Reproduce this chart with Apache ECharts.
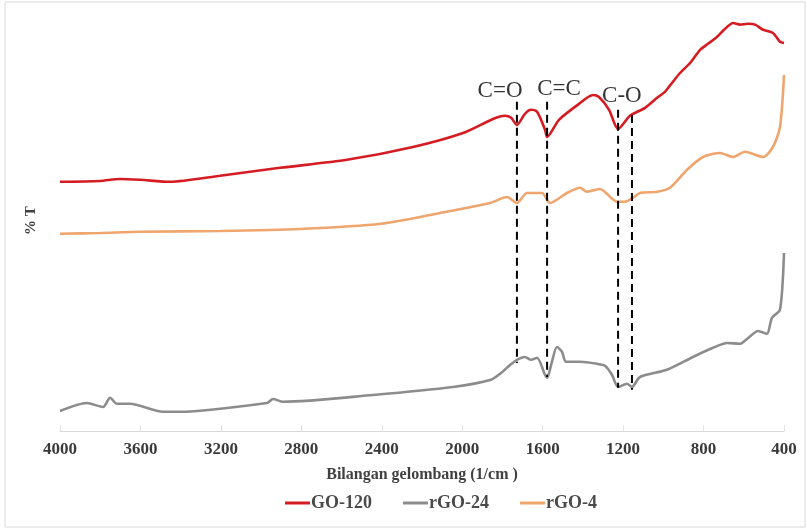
<!DOCTYPE html>
<html>
<head>
<meta charset="utf-8">
<script src="https://cdn.jsdelivr.net/npm/echarts@6/dist/echarts.min.js"></script>
<style>html,body{margin:0;padding:0;background:#fff;}#c{width:807px;height:529px;}</style>
</head>
<body>
<div id="c"></div>
<script>
// x: wavenumber (1/cm), y: %T (arbitrary offset units)
const xTicks = [4000, 3600, 3200, 2800, 2400, 2000, 1600, 1200, 800, 400];
const seriesNames = ['GO-120', 'rGO-24', 'rGO-4'];

const go120 = [
  [4000,62.3],[3801,62.5],[3702,63.0],[3602,62.8],[3453,62.3],[3204,63.8],[2906,65.8],
  [2573,67.8],[2245,71.0],[1996,74.5],[1847,78.0],[1787,78.8],[1757,78.3],[1728,76.5],
  [1688,79.3],[1658,80.3],[1628,79.8],[1588,75.3],[1578,73.5],[1519,77.8],[1419,81.8],
  [1350,84.0],[1320,83.5],[1270,80.3],[1225,75.5],[1166,78.8],[1091,80.8],[1031,83.3],
  [992,84.8],[957,87.0],[917,89.5],[867,92.0],[817,95.3],[778,96.8],[738,98.3],[698,100.3],
  [653,102.0],[619,101.6],[579,101.8],[544,101.6],[504,100.3],[455,99.5],[420,97.3],[400,97.0]
];
const rgo24 = [
  [4000,5.0],[3866,7.0],[3786,6.0],[3751,8.3],[3717,6.8],[3652,6.8],[3488,4.8],[3403,4.8],
  [2971,7.0],[2941,8.0],[2891,7.3],[2444,9.0],[2046,11.0],[1857,12.8],[1807,14.5],[1762,16.5],
  [1728,17.8],[1688,18.5],[1658,17.8],[1628,18.3],[1588,14.0],[1578,13.3],[1554,17.3],
  [1529,21.0],[1504,19.8],[1484,17.3],[1414,17.3],[1330,16.8],[1290,16.3],[1255,14.0],
  [1225,11.0],[1181,11.8],[1156,11.0],[1116,13.5],[982,15.3],[853,18.5],[753,20.8],
  [683,22.0],[619,21.8],[584,23.0],[529,25.0],[485,24.3],[460,28.3],[420,30.3],[400,44.5]
];
const rgo4 = [
  [4000,49.3],[3801,49.5],[3602,49.8],[3204,50.0],[2807,50.5],[2404,51.8],[2110,54.5],
  [1862,57.0],[1777,58.5],[1728,57.0],[1678,59.5],[1603,59.5],[1564,57.0],[1479,59.5],
  [1414,60.8],[1380,59.8],[1315,60.5],[1230,57.3],[1191,57.3],[1151,58.3],[1116,59.5],
  [1031,59.8],[967,60.8],[882,65.3],[803,68.5],[718,69.5],[653,68.5],[594,69.8],
  [504,68.5],[455,71.0],[420,76.0],[400,89.0]
];
// annotation dashed lines: [wavenumber, yTop, yBottom]
const peakLines = [[1728,82.3,17.0],[1578,82.3,13.5],[1225,80.3,10.8],[1156,79.0,10.3]];
// annotation labels: [wavenumber, y, text]
const peakLabels = [[1812,85.0,'C=O'],[1519,85.5,'C=C'],[1206,83.8,'C-O']];

const colors = {'GO-120':'#d51c22','rGO-24':'#8c8c8c','rGO-4':'#eea56e'};
const serif = '"Liberation Serif","DejaVu Serif",serif';

const series = [];
[[go120,'GO-120'],[rgo24,'rGO-24'],[rgo4,'rGO-4']].forEach(([d,n])=>{
  series.push({name:n,type:'line',data:d,showSymbol:false,smooth:0.25,
    lineStyle:{width:2.6,color:colors[n]},itemStyle:{color:colors[n]},z:3});
});
peakLines.forEach(p=>{
  series.push({type:'line',data:[[p[0],p[1]],[p[0],p[2]]],showSymbol:false,silent:true,
    lineStyle:{color:'#000',width:2,type:[8,5]},z:4});
});
series.push({type:'scatter',data:peakLabels,symbolSize:0,silent:true,
  label:{show:true,position:'inside',formatter:p=>p.value[2],color:'#000',
    fontFamily:serif,fontSize:23},z:5});

const chart = echarts.init(document.getElementById('c'));
chart.setOption({
  animation:false,
  backgroundColor:'#fff',
  graphic:[{type:'rect',shape:{x:5,y:2,width:800,height:525},
    style:{fill:'none',stroke:'#d9d9d9',lineWidth:1},silent:true}],
  grid:{left:60,right:23,top:10,bottom:98,containLabel:false},
  xAxis:{type:'value',inverse:true,min:400,max:4000,interval:400,
    name:'Bilangan gelombang (1/cm )',nameLocation:'middle',nameGap:36,
    nameTextStyle:{fontFamily:serif,fontWeight:'bold',fontSize:16,color:'#404040'},
    axisLine:{show:true,lineStyle:{color:'#d9d9d9',width:1}},
    axisTick:{show:true,inside:true,length:6,lineStyle:{color:'#e3e3e3'}},
    splitLine:{show:false},
    axisLabel:{fontFamily:serif,fontWeight:'bold',fontSize:17,color:'#3a3a3a',margin:10,
      formatter:v=>xTicks.includes(v)?String(v):''}},
  yAxis:{type:'value',min:0,max:105.25,
    name:'% T',nameLocation:'middle',nameRotate:90,nameGap:21,
    nameTextStyle:{fontFamily:serif,fontWeight:'bold',fontSize:15,color:'#404040'},
    axisLine:{show:false},axisTick:{show:false},axisLabel:{show:false},splitLine:{show:false}},
  legend:{data:seriesNames,left:280,top:489,icon:'rect',itemWidth:25,itemHeight:3,itemGap:31,
    textStyle:{fontFamily:serif,fontWeight:'bold',fontSize:18,color:'#4a4a4a',padding:[0,0,0,-4]}},
  series:series
});
</script>
</body>
</html>
